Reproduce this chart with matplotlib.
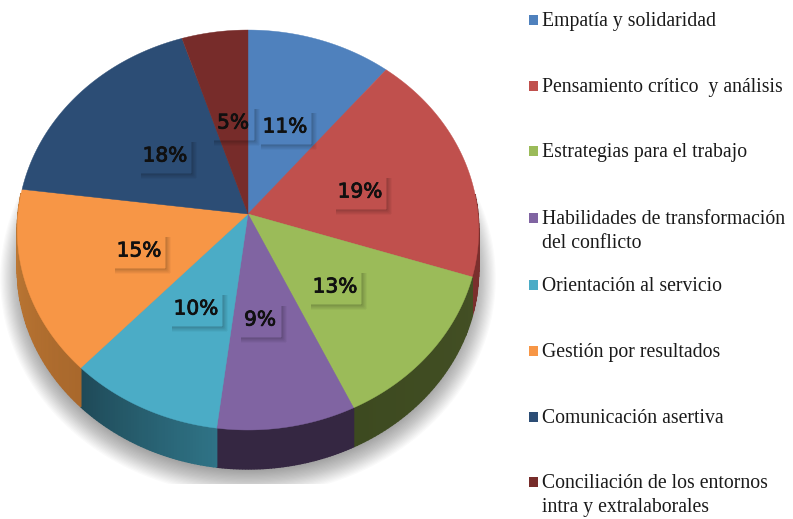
"""Tilted 3D pie of competencies with a side legend."""

import numpy as np
import matplotlib
matplotlib.use("Agg")
import matplotlib.pyplot as plt
import matplotlib.patheffects as pe
from matplotlib.patches import Polygon, Rectangle

categories = [
    "Empatía y solidaridad",
    "Pensamiento crítico  y análisis",
    "Estrategias para el trabajo",
    "Habilidades de transformación\ndel conflicto",
    "Orientación al servicio",
    "Gestión por resultados",
    "Comunicación asertiva",
    "Conciliación de los entornos\nintra y extralaborales",
]
values = [11, 19, 13, 9, 10, 15, 18, 5]
colors = ["#4f81bd", "#c0504d", "#9bbb59", "#8064a2", "#4bacc6", "#f79646", "#2c4d75", "#772c2a"]
wall_start = ["#2f4d71", "#7a2f2d", "#434f24", "#352742", "#2f7386", "#a9682c", "#1c3049", "#4a1b1a"]
wall_end = ["#2f4d71", "#7a2f2d", "#3d4a20", "#352742", "#1f4a58", "#c07a35", "#1c3049", "#4a1b1a"]

label_x = [285, 360, 335, 260, 196, 139, 165, 233]
label_y = [127, 192, 287, 320, 309, 251, 156, 123]
legend_y = [20, 86, 151, 218, 285, 351, 417, 482]

CX, CY = 248, 214
RX, RY, TILT = 230, 198.7, 0.08
DEPTH = 39


def project(theta):
    # theta clockwise from the top, perspective squeezes the far side
    u, v = np.sin(theta), np.cos(theta)
    d = 1 + TILT * v
    return CX + RX * u / d, CY - RY * v / d


def mix(a, b, t):
    a, b = np.array(matplotlib.colors.to_rgb(a)), np.array(matplotlib.colors.to_rgb(b))
    return tuple(a + (b - a) * t)


fig = plt.figure(figsize=(7.93, 5.19), dpi=100)
ax = fig.add_axes([0, 0, 1, 1])
ax.set_xlim(0, 793)
ax.set_ylim(519, 0)
ax.axis("off")

# soft ground shadow, cut off flat at the bottom
clip = Rectangle((0, 0), 793, 484, transform=ax.transData)
t = np.linspace(0, 2 * np.pi, 240)
ex, ey = project(t)
for grow in np.linspace(17, -12, 26):
    sx = CX + (ex - CX) * (1 + grow / RX)
    sy = CY + DEPTH + 8 + (ey - CY) * (1 + grow / RY)
    p = Polygon(np.column_stack([sx, sy]), closed=True, fc="black", ec="none", alpha=0.02, zorder=1)
    ax.add_patch(p)
    p.set_clip_path(clip)

edges = np.cumsum([0] + values) / sum(values) * 2 * np.pi

# side walls
for i in range(len(values)):
    th = np.linspace(edges[i], edges[i + 1], 50)
    x, y = project(th)
    for j in range(len(th) - 1):
        if np.cos((th[j] + th[j + 1]) / 2) > 0.1:
            continue
        col = mix(wall_start[i], wall_end[i], j / (len(th) - 2))
        quad = [(x[j], y[j]), (x[j + 1], y[j + 1]), (x[j + 1], y[j + 1] + DEPTH), (x[j], y[j] + DEPTH)]
        ax.add_patch(Polygon(quad, closed=True, fc=col, ec=col, lw=1.0, zorder=2))

# top face
for i in range(len(values)):
    th = np.linspace(edges[i], edges[i + 1], 80)
    x, y = project(th)
    pts = np.column_stack([np.r_[CX, x], np.r_[CY, y]])
    ax.add_patch(Polygon(pts, closed=True, fc=colors[i], ec=colors[i], lw=0.3, zorder=3))

# percent labels with the faint box shadow
for i, v in enumerate(values):
    lx, ly = label_x[i], label_y[i]
    w = 27 if v >= 10 else 22
    for off, a in zip([4, 3, 2, 1, 0], [0.03, 0.05, 0.08, 0.11, 0.14]):
        ax.plot([lx + w + off, lx + w + off], [ly - 14, ly + 18 + off], color="black", alpha=a, lw=1.2,
                solid_capstyle="butt", zorder=4)
        ax.plot([lx - w + 3, lx + w + off], [ly + 18 + off, ly + 18 + off], color="black", alpha=a, lw=1.2,
                solid_capstyle="butt", zorder=4)
    ax.text(lx, ly, f"{v}%", ha="center", va="center", fontsize=14.5, family="DejaVu Sans",
            color="#101010", zorder=5, path_effects=[pe.withStroke(linewidth=0.6, foreground="#101010")])

# legend
for i, cat in enumerate(categories):
    y = legend_y[i]
    ax.add_patch(Rectangle((529, y - 5.5), 9, 10, fc=colors[i], ec="none", zorder=3))
    ax.text(542, y - 8, cat, ha="left", va="top", fontsize=14.2, family="Liberation Serif",
            color="#1a1a1a", linespacing=1.38, zorder=3)

fig.savefig("out.png", dpi=100)
